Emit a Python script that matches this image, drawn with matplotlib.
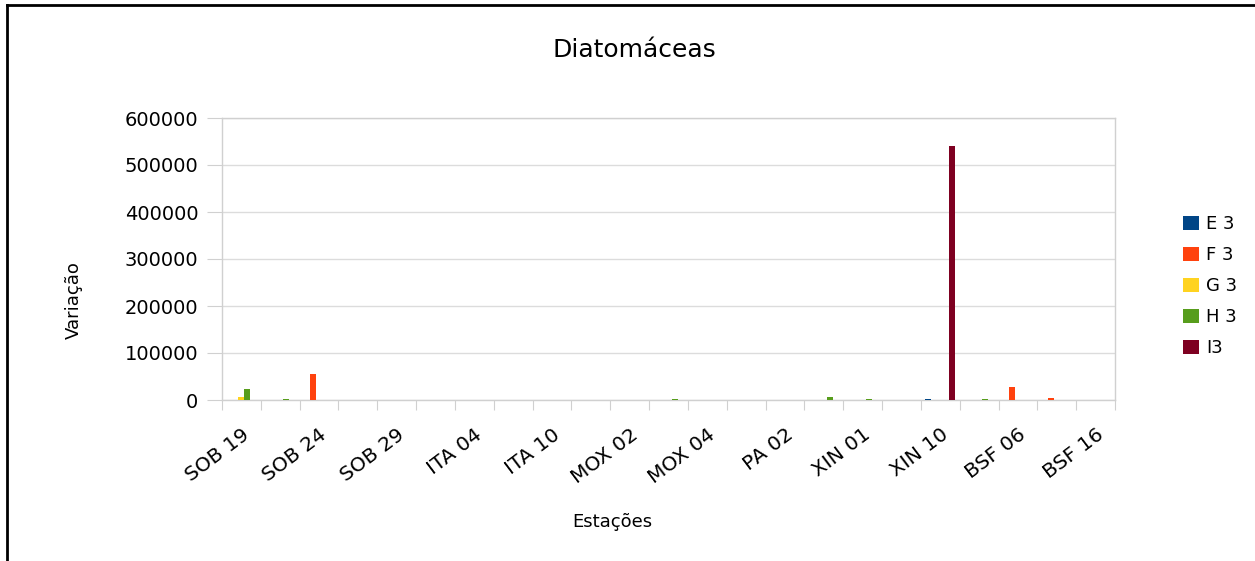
import numpy as np
import matplotlib as mpl
mpl.use("Agg")
import matplotlib.pyplot as plt
from matplotlib.lines import Line2D
from matplotlib.patches import Patch

mpl.rcParams['font.family'] = ['DejaVu Sans']

#-- stations (only every other one is labelled on the axis)
estacoes = ['SOB 19', '', 'SOB 24', '', 'SOB 29', '', 'ITA 04', '', 'ITA 10', '',
            'MOX 02', '', 'MOX 04', '', 'PA 02', '', 'XIN 01', '', 'XIN 10', '',
            'BSF 06', '', 'BSF 16']

series = ['E 3', 'F 3', 'G 3', 'H 3', 'I3']
cores = ['#004586', '#ff420e', '#ffd320', '#579d1c', '#7e0021']

E3 = [0, 0, 0, 0, 0, 0, 0, 0, 0, 0, 0, 0, 0, 0, 0, 0, 0, 0, 3000, 0, 0, 0, 0]
F3 = [0, 0, 55000, 0, 0, 0, 0, 0, 0, 0, 0, 0, 0, 0, 0, 0, 0, 0, 0, 0, 28000, 3500, 0]
G3 = [7000, 0, 0, 0, 0, 0, 0, 0, 0, 0, 0, 0, 0, 0, 0, 0, 0, 0, 0, 0, 0, 0, 0]
H3 = [23000, 3000, 0, 0, 0, 0, 0, 0, 0, 0, 0, 3000, 0, 0, 0, 7000, 3000, 0, 0, 3000, 0, 0, 0]
I3 = [0, 0, 0, 0, 0, 0, 0, 0, 0, 0, 0, 0, 0, 0, 0, 0, 0, 0, 540000, 0, 0, 0, 0]
valores = [E3, F3, G3, H3, I3]

W, H = 1255, 561
fig = plt.figure(figsize=(W / 100, H / 100), dpi=100)
ax = fig.add_axes([222 / W, 1 - 400 / H, (1115 - 222) / W, (400 - 118) / H])

x = np.arange(len(estacoes))
bw = 0.155
for i, (nome, vals, c) in enumerate(zip(series, valores, cores)):
    ax.bar(x + (i - 2) * bw, vals, width=bw, color=c, label=nome, zorder=3)

ax.set_xlim(-0.5, len(estacoes) - 0.5)
ax.set_ylim(0, 600000)
ax.set_yticks(np.arange(0, 600001, 100000))
ax.yaxis.grid(True, color='#dcdcdc', linewidth=1)
ax.set_axisbelow(True)

gcol = '#d0d0d0'
for s in ax.spines.values():
    s.set_color(gcol)
    s.set_linewidth(1)

#-- major ticks at category borders, labels on minor ticks at centres
ax.set_xticks(np.arange(-0.5, len(estacoes), 1.0))
ax.set_xticklabels([])
ax.set_xticks(x, minor=True)
ax.set_xticklabels(estacoes, minor=True, rotation=37, ha='right', va='top',
                   rotation_mode='anchor', fontsize=14.5)
ax.tick_params(axis='x', which='major', length=7, color=gcol, direction='out')
ax.tick_params(axis='x', which='minor', length=0, pad=18)
ax.tick_params(axis='y', length=11, color=gcol, pad=6, labelsize=14)
ax.yaxis.set_major_formatter(mpl.ticker.FuncFormatter(lambda v, p: '%d' % v))

fig.text(634 / W, 1 - 50 / H, 'Diatomáceas', ha='center', va='center', fontsize=18)
fig.text(74 / W, 1 - 300 / H, 'Variação', ha='center', va='center', rotation=90, fontsize=13)
fig.text(612 / W, 1 - 522 / H, 'Estações', ha='center', va='center', fontsize=13)

handles = [Patch(facecolor=c, edgecolor='none') for c in cores]
fig.legend(handles, series, loc='upper left', bbox_to_anchor=(1174 / W, 1 - 206 / H),
           frameon=False, fontsize=13, handlelength=0.9, handleheight=0.8,
           handletextpad=0.4, labelspacing=0.72, borderpad=0)

#-- black frame round the picture (left and top only)
fig.add_artist(Line2D([7 / W, 7 / W], [0, 1 - 5 / H], color='black', linewidth=2, transform=fig.transFigure))
fig.add_artist(Line2D([7 / W, 1], [1 - 5 / H, 1 - 5 / H], color='black', linewidth=2, transform=fig.transFigure))

fig.savefig('out.png', dpi=100)
